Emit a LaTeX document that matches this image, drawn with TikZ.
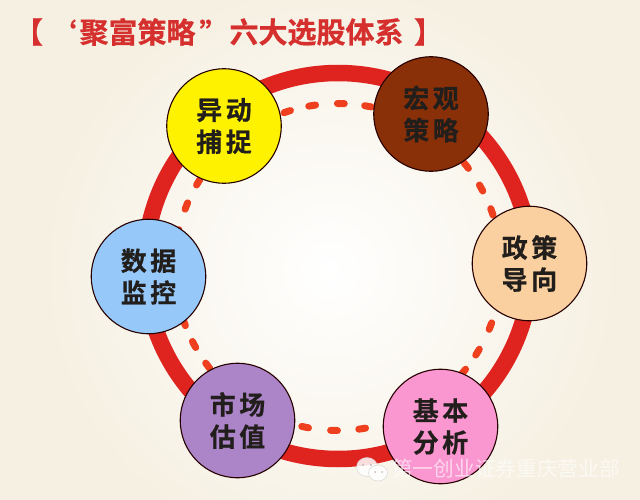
\documentclass[tikz,border=0pt]{standalone}
\usepackage{fontspec}
\newfontfamily\cjk{Noto Sans CJK SC}[BoldFont={Noto Sans CJK SC Bold},BoldFeatures={FakeBold=0.6}]
\definecolor{ringred}{HTML}{DF2420}
\definecolor{dashred}{HTML}{EE3F1E}
\definecolor{titlered}{HTML}{D5302E}
\definecolor{paper}{HTML}{F6F0E2}
\definecolor{txt}{HTML}{221E1C}
\newcommand{\gp}{\hspace{3.5pt}}
\tikzset{
  x=1pt,y=-1pt,
  disc/.style={circle,draw=black!85!red,line width=1.1pt,minimum size=114.5pt,inner sep=0pt,align=center,
    font=\cjk\bfseries\fontsize{26}{32}\selectfont,text=txt},
  ttl/.style={inner sep=0pt,text=titlered,font=\cjk\bfseries\fontsize{29}{29}\selectfont},
  wm/.style={text=white,opacity=.62,font=\cjk\fontsize{20.7}{20.7}\selectfont,inner sep=0pt,anchor=west},
  face/.style={fill=white,draw=black!18,line width=.5pt,opacity=.85},
  eye/.style={fill=black!25}
}
\begin{document}
\begin{tikzpicture}
\useasboundingbox (0,0) rectangle (640,500);
\fill[paper] (0,0) rectangle (640,500);
\shade[inner color=white,outer color=paper] (330,270) circle (290);
\coordinate (c) at (338,266);
\coordinate (d) at (338,267);
\draw[ringred,line width=16.5pt] (c) circle (193);
\foreach \m in {-108.1,-99.1,-89,-79.4,-38.3,-28.9,-19.7,21.2,31.4,39.9,81.5,91.4,101.6,142.8,151.7,160.2,192,201.9,211.3}{
  \pgfmathsetmacro{\a}{\m-1.2}
  \draw[dashred,line width=7pt,line cap=round] ([shift={(\a:163.5)}]d) arc[start angle=\a,delta angle=2.4,radius=163.5];
}
\node[disc,fill=yellow] (yd) at (224,126) {异\gp 动\\捕\gp 捉};
\node[disc,fill={rgb,255:red,138;green,48;blue,8}] (md) at (431,114) {宏\gp 观\\策\gp 略};
\node[disc,fill={rgb,255:red,251;green,208;blue,160}] (zc) at (529.5,263.5) {政\gp 策\\导\gp 向};
\node[disc,fill={rgb,255:red,250;green,150;blue,208}] (jb) at (440.5,426.5) {基\gp 本\\分\gp 析};
\node[disc,fill={rgb,255:red,172;green,132;blue,200}] (sc) at (237.5,420.5) {市\gp 场\\估\gp 值};
\node[disc,fill={rgb,255:red,150;green,200;blue,250}] (sj) at (148.5,276.5) {数\gp 据\\监\gp 控};
\node[ttl] (t1) at (28.5,32) {【};
\node[ttl] (t2) at (62,32) {‘};
\node[ttl] (t3) at (137.5,32) {聚富策略};
\node[ttl] (t4) at (214,32) {”};
\node[ttl] (t5) at (316.5,32) {六大选股体系};
\node[ttl] (t6) at (428.5,32) {】};
\fill[face] (367,467) ellipse (10.5 and 9.5);
\fill[face] (378,473) ellipse (9.5 and 8);
\fill[eye] (363,465) circle (1.2) (371,465) circle (1.2) (375,472) circle (1) (382,472) circle (1);
\node[wm] (mark) at (392,469) {第一创业证券重庆营业部};
\end{tikzpicture}
\end{document}
